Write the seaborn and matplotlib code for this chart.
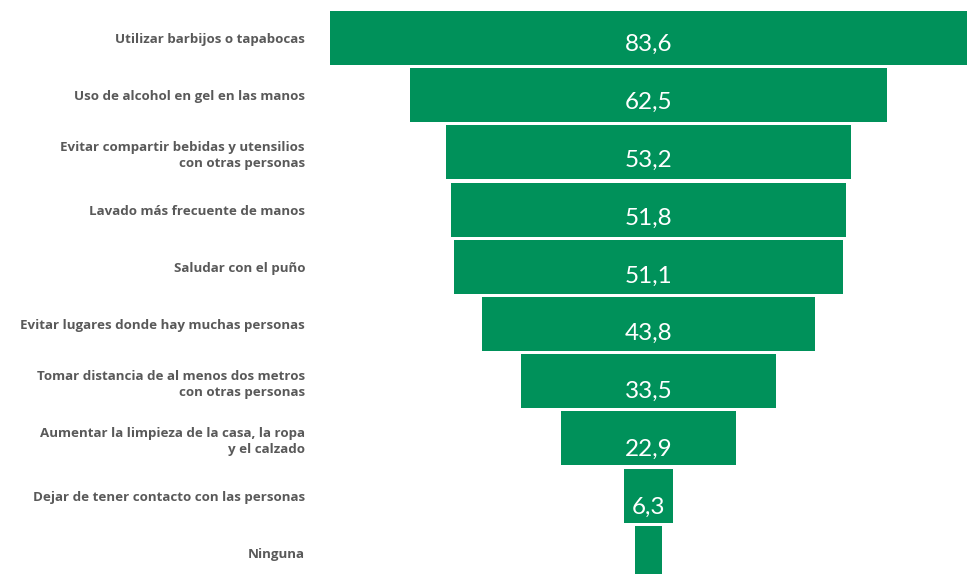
import matplotlib
matplotlib.use("Agg")
import matplotlib.pyplot as plt
import seaborn as sns
import pandas as pd

# Data
categories = [
    "Utilizar barbijos o tapabocas",
    "Uso de alcohol en gel en las manos",
    "Evitar compartir bebidas y utensilios\ncon otras personas",
    "Lavado más frecuente de manos",
    "Saludar con el puño",
    "Evitar lugares donde hay muchas personas",
    "Tomar distancia de al menos dos metros\ncon otras personas",
    "Aumentar la limpieza de la casa, la ropa\ny el calzado",
    "Dejar de tener contacto con las personas",
    "Ninguna",
]
values = [83.6, 62.5, 53.2, 51.8, 51.1, 43.8, 33.5, 22.9, 6.3, 3.5]
value_labels = ["83,6", "62,5", "53,2", "51,8", "51,1", "43,8", "33,5", "22,9", "6,3", ""]

green = "#00915A"
label_color = "#595959"

df = pd.DataFrame({"cat": categories, "val": values})

sns.set_style("white")
fig = plt.figure(figsize=(9.77, 5.74), dpi=100)
ax = fig.add_axes([330 / 977, 0.0, 637 / 977, 1 - 11 / 574])

sns.barplot(data=df, y="cat", x="val", color=green, saturation=1,
            width=0.944, ax=ax, orient="h")

# center every bar to get the funnel shape
for p in ax.patches:
    w = p.get_width()
    p.set_x(-w / 2)
    p.set_edgecolor("none")

for i, (p, lab) in enumerate(zip(ax.patches, value_labels)):
    y = p.get_y() + p.get_height() / 2 + 0.11 + 0.012 * i
    ax.text(0, y, lab, ha="center", va="center", color="white",
            fontsize=17.5, fontfamily="Lato", fontweight="normal")

ax.set_xlim(-41.8, 41.8)
ax.set_ylim(9.37, -0.472)
ax.set_xlabel("")
ax.set_ylabel("")
ax.set_xticks([])
ax.tick_params(axis="y", length=0, pad=18)
for t in ax.get_yticklabels():
    t.set_fontfamily("Open Sans")
    t.set_fontweight("bold")
    t.set_fontsize(9.6)
    t.set_color(label_color)
    t.set_linespacing(1.3)
sns.despine(ax=ax, left=True, bottom=True)

fig.savefig("out.png", dpi=100)
